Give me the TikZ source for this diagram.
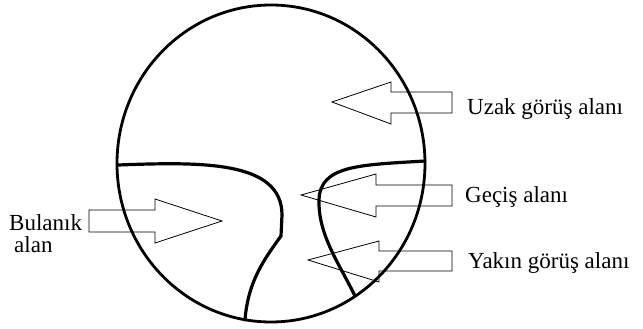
\documentclass[tikz,border=0pt]{standalone}
\usepackage{fontspec}
\setmainfont{Liberation Serif}
\begin{document}
\begin{tikzpicture}[x=1pt,y=-1pt,
  rim/.style={line width=2.8pt},
  border/.style={line width=3.2pt},
  hollow/.style={line width=0.8pt, line join=miter},
  lbl/.style={anchor=base west, inner sep=0pt, font=\fontsize{23}{27}\selectfont}]
\useasboundingbox (0,0) rectangle (643,329);
% outer field
\draw[rim] (271,163.5) ellipse [x radius=154, y radius=158.5];
% zone borders
\draw[border, line cap=round] (118,165) .. controls (200,162) and (282,160) .. (282,215)
  -- (281,236) .. controls (266,257) and (248,280) .. (245,320);
\draw[border, line cap=round] (425,161) .. controls (360,165) and (320,165) .. (319,200)
  .. controls (318,235) and (340,265) .. (355,296);
% hollow arrows
\draw[hollow] (452,92) -- (391,92) -- (391,82) -- (332,102) -- (391,124) -- (391,113) -- (452,113) -- cycle;
\draw[hollow] (452,185) -- (376,185) -- (376,174) -- (301,195) -- (376,217) -- (376,206) -- (452,206) -- cycle;
\draw[hollow] (452,251) -- (379,251) -- (379,241) -- (308,260) -- (379,282) -- (379,271) -- (452,271) -- cycle;
\draw[hollow] (89,210) -- (155,210) -- (155,199) -- (222,221) -- (155,243) -- (155,232) -- (89,232) -- cycle;
% labels
\node[lbl] (uzak) at (467,114) {Uzak görüş alanı};
\node[lbl] (gecis) at (465,202) {Geçiş alanı};
\node[lbl] (yakin) at (468,268) {Yakın görüş alanı};
\node[lbl] (bul) at (9,230) {Bulanık};
\node[lbl] (alan) at (14,252) {alan};
\end{tikzpicture}
\end{document}
